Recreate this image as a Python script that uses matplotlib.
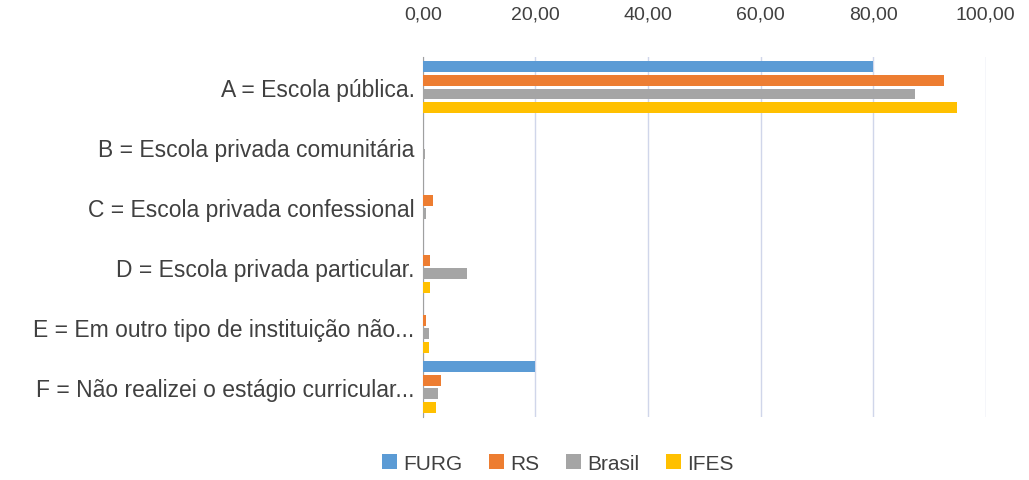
import matplotlib.pyplot as plt
import numpy as np

plt.rcParams['font.family'] = ['Liberation Sans', 'DejaVu Sans']

# categorias e percentuais por grupo
categorias = ['A = Escola pública.',
              'B = Escola privada comunitária',
              'C = Escola privada confessional',
              'D = Escola privada particular.',
              'E = Em outro tipo de instituição não...',
              'F = Não realizei o estágio curricular...']
furg = [80.0, 0.0, 0.0, 0.0, 0.0, 20.0]
rs = [92.6, 0.1, 1.8, 1.2, 0.5, 3.3]
brasil = [87.4, 0.4, 0.5, 7.9, 1.0, 2.6]
ifes = [94.8, 0.0, 0.1, 1.3, 1.0, 2.3]
series = ['FURG', 'RS', 'Brasil', 'IFES']
cores = ['#5B9BD5', '#ED7D31', '#A5A5A5', '#FFC000']
ticks = [0, 20, 40, 60, 80, 100]

fig = plt.figure(figsize=(10.29, 4.81), dpi=100)
ax = fig.add_axes([0.411, 0.131, 0.547, 0.748])

y = np.arange(len(categorias))
passo = 0.226
altura = 0.18
for i, (vals, nome, cor) in enumerate(zip([furg, rs, brasil, ifes], series, cores)):
    ax.barh(y + (i - 1.5) * passo, vals, height=altura, color=cor, label=nome, zorder=3)

ax.set_xlim(0, 100)
ax.set_ylim(len(categorias) - 0.5, -0.5)
ax.set_xticks(ticks)
ax.set_xticklabels([('%.2f' % v).replace('.', ',') for v in ticks])
ax.xaxis.tick_top()
ax.tick_params(axis='x', length=0, pad=25, labelsize=14, labelcolor='#404040')
ax.set_yticks(y)
ax.set_yticklabels(categorias)
ax.tick_params(axis='y', length=0, pad=6, labelsize=16.5, labelcolor='#404040')
ax.grid(axis='x', color='#d0d6ea', linewidth=1, zorder=0)
for s in ['top', 'right', 'bottom']:
    ax.spines[s].set_visible(False)
ax.spines['left'].set_color('#a0a0a0')

fig.legend(loc='center', ncol=4, frameon=False, fontsize=15,
           bbox_to_anchor=(0.542, 0.035), handlelength=0.7, handleheight=0.7,
           handletextpad=0.3, columnspacing=1.3, labelcolor='#404040')

plt.savefig('out.png')
